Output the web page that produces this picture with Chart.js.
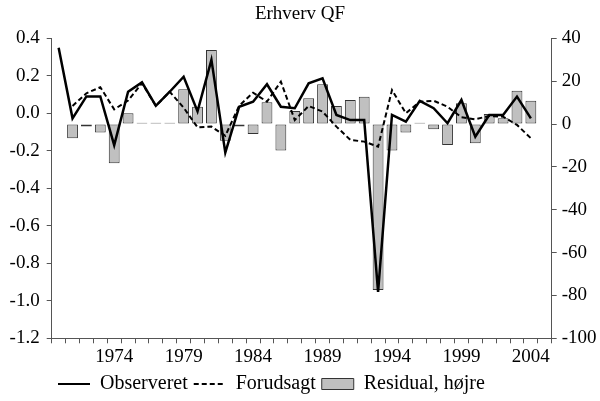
<!DOCTYPE html>
<html>
<head>
<meta charset="utf-8">
<script src="https://cdn.jsdelivr.net/npm/chart.js@4/dist/chart.umd.min.js"></script>
<style>
  html, body { margin: 0; padding: 0; background: #fff; }
  #wrap { width: 600px; height: 401px; }
</style>
</head>
<body>
<div id="wrap"><canvas id="qfChart"></canvas></div>
<script>
// Years on the x axis
const years = [1970, 1971, 1972, 1973, 1974, 1975, 1976, 1977, 1978, 1979,
    1980, 1981, 1982, 1983, 1984, 1985, 1986, 1987, 1988, 1989,
    1990, 1991, 1992, 1993, 1994, 1995, 1996, 1997, 1998, 1999,
    2000, 2001, 2002, 2003, 2004];
const labelYears = [1974, 1979, 1984, 1989, 1994, 1999, 2004];

// Left axis series
const observeret = [0.35, -0.027, 0.09, 0.09, -0.17, 0.115, 0.165, 0.04, 0.115, 0.195,
    0.01, 0.285, -0.21, 0.035, 0.062, 0.155, 0.035, 0.027, 0.16, 0.187,
    -0.009, -0.036, -0.036, -0.953, -0.009, -0.045, 0.066, 0.027, -0.053, 0.071,
    -0.125, -0.009, -0.009, 0.089, -0.027];
const forudsagt = [null, 0.039, 0.107, 0.139, 0.021, 0.068, 0.16, 0.04, 0.115, 0.03,
    -0.075, -0.071, -0.12, 0.04, 0.11, 0.062, 0.169, -0.036, 0.039, 0.009,
    -0.071, -0.142, -0.151, -0.178, 0.124, 0.0, 0.062, 0.067, 0.035, -0.021,
    -0.032, -0.014, -0.018, -0.062, -0.133];

// Right axis series
const residual = [null, -6.7, -1.2, -4.0, -18.3, 5.0, 0.6, 0.6, 0.6, 16.2,
    8.1, 34.5, -7.8, -1.2, -4.7, 10.1, -12.4, 6.1, 12.0, 18.5,
    8.4, 11.2, 12.7, -77.5, -12.4, -4.0, 0.6, -2.5, -9.8, 9.7,
    -9.0, 4.7, 2.7, 15.5, 10.9];

const toPoints = arr => arr.map((v, i) => ({ x: years[i], y: v }));

const axisGray = '#555';
const serif = '"Liberation Serif", "Times New Roman", serif';

// Move the legend so it sits left of centre like the original
const legendShift = {
    id: 'legendShift',
    afterLayout(chart) {
        const lg = chart.legend;
        lg.left += 52;
        lg.right += 52;
        lg.top += 3;
        lg.bottom += 3;
        lg.adjustHitBoxes();
    }
};

Chart.defaults.font.family = serif;
Chart.defaults.color = '#000';

new Chart(document.getElementById('qfChart'), {
    type: 'bar',
    data: {
        datasets: [
            {
                type: 'line',
                label: 'Observeret',
                data: toPoints(observeret),
                borderColor: '#000',
                backgroundColor: '#000',
                borderWidth: 2.5,
                pointRadius: 0,
                tension: 0,
                yAxisID: 'y'
            },
            {
                type: 'line',
                label: 'Forudsagt',
                data: toPoints(forudsagt),
                borderColor: '#000',
                backgroundColor: '#000',
                borderWidth: 2,
                borderDash: [5, 3],
                pointRadius: 0,
                tension: 0,
                yAxisID: 'y'
            },
            {
                type: 'bar',
                label: 'Residual, højre',
                data: toPoints(residual),
                backgroundColor: '#c0c0c0',
                borderColor: '#333',
                borderWidth: 1,
                borderSkipped: false,
                barPercentage: 0.78,
                categoryPercentage: 1,
                yAxisID: 'y2'
            }
        ]
    },
    options: {
        responsive: true,
        maintainAspectRatio: false,
        animation: false,
        layout: { padding: 0 },
        plugins: {
            title: {
                display: true,
                text: 'Erhverv QF',
                color: '#000',
                font: { size: 19, weight: 'normal' },
                padding: { top: 2.5, bottom: 13 }
            },
            legend: {
                position: 'bottom',
                align: 'start',
                labels: {
                    usePointStyle: true,
                    pointStyleWidth: 32,
                    boxHeight: 11,
                    padding: 6,
                    color: '#000',
                    font: { size: 20 },
                    generateLabels: chart => chart.data.datasets.map((ds, i) => ({
                        text: ds.label,
                        datasetIndex: i,
                        fillStyle: ds.backgroundColor,
                        strokeStyle: ds.borderColor,
                        lineWidth: ds.type === 'line' ? 2 : 1,
                        lineDash: ds.borderDash || [],
                        pointStyle: ds.type === 'line' ? 'line' : 'rect',
                        hidden: false
                    }))
                }
            },
            tooltip: { enabled: false }
        },
        scales: {
            x: {
                type: 'linear',
                min: 1970,
                max: 2005,
                afterFit: scale => { scale.height = 26.7; },
                grid: { drawOnChartArea: false, tickLength: 5, color: axisGray },
                border: { color: axisGray, width: 1 },
                ticks: {
                    stepSize: 1,
                    autoSkip: false,
                    maxRotation: 0,
                    padding: 2,
                    color: '#000',
                    font: { size: 19 },
                    callback: v => labelYears.includes(v) ? String(v) : ''
                }
            },
            y: {
                position: 'left',
                min: -1.2,
                max: 0.4,
                afterFit: scale => { scale.width = 51.7; },
                grid: { drawOnChartArea: false, tickLength: 5, color: axisGray },
                border: { color: axisGray, width: 1 },
                ticks: {
                    stepSize: 0.2,
                    padding: 7,
                    color: '#000',
                    font: { size: 19 },
                    callback: v => v.toFixed(1)
                }
            },
            y2: {
                position: 'right',
                min: -100,
                max: 40,
                afterFit: scale => { scale.width = 48.3; },
                grid: { drawOnChartArea: false, tickLength: 5, color: axisGray },
                border: { color: axisGray, width: 1 },
                ticks: {
                    stepSize: 20,
                    padding: 5,
                    color: '#000',
                    font: { size: 19 }
                }
            }
        }
    },
    plugins: [legendShift]
});
</script>
</body>
</html>
